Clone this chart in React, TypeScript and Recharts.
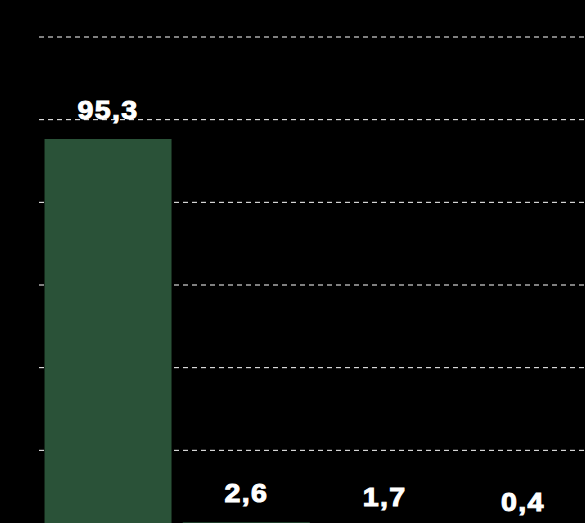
import React from 'react';
import { BarChart, Bar, XAxis, YAxis, CartesianGrid, LabelList } from 'recharts';

const categories = ['Categoria 1', 'Categoria 2', 'Categoria 3', 'Categoria 4'];
const values = [95.3, 2.6, 1.7, 0.4];
const yTicks = [0, 20, 40, 60, 80, 100, 120];

const data = categories.map((name, i) => ({ name, value: values[i] }));

const fmt = (v: any) => Number(v).toFixed(1).replace('.', ',');

const renderLabel = (props: any) => {
  const { x, y, width, value } = props;
  const cx = Number(x) + Number(width) / 2;
  const ty = Number(y) - 20;
  return (
    <text
      transform={`translate(${cx},${ty}) scale(1.1,1)`}
      textAnchor="middle"
      fill="#ffffff"
      stroke="#ffffff"
      strokeWidth={1}
      letterSpacing={1.2}
      style={{ fontFamily: '"Liberation Sans", Arial, sans-serif', fontWeight: 'bold', fontSize: 26 }}
    >
      {fmt(value)}
    </text>
  );
};

export default function App() {
  return (
    <div
      style={{
        position: 'fixed',
        top: 0,
        left: 0,
        width: 585,
        height: 523,
        overflow: 'hidden',
        background: '#000',
      }}
    >
      <BarChart
        width={600}
        height={540}
        data={data}
        margin={{ top: 37, left: 39, right: 8, bottom: 7 }}
        barCategoryGap="4%"
      >
        <CartesianGrid
          horizontal={true}
          vertical={false}
          stroke="#ffffff"
          strokeDasharray="5 4"
        />
        <XAxis dataKey="name" hide />
        <YAxis hide domain={[0, 120]} ticks={yTicks} />
        <Bar dataKey="value" fill="#2a5238" isAnimationActive={false}>
          <LabelList dataKey="value" position="top" content={renderLabel} />
        </Bar>
      </BarChart>
    </div>
  );
}
